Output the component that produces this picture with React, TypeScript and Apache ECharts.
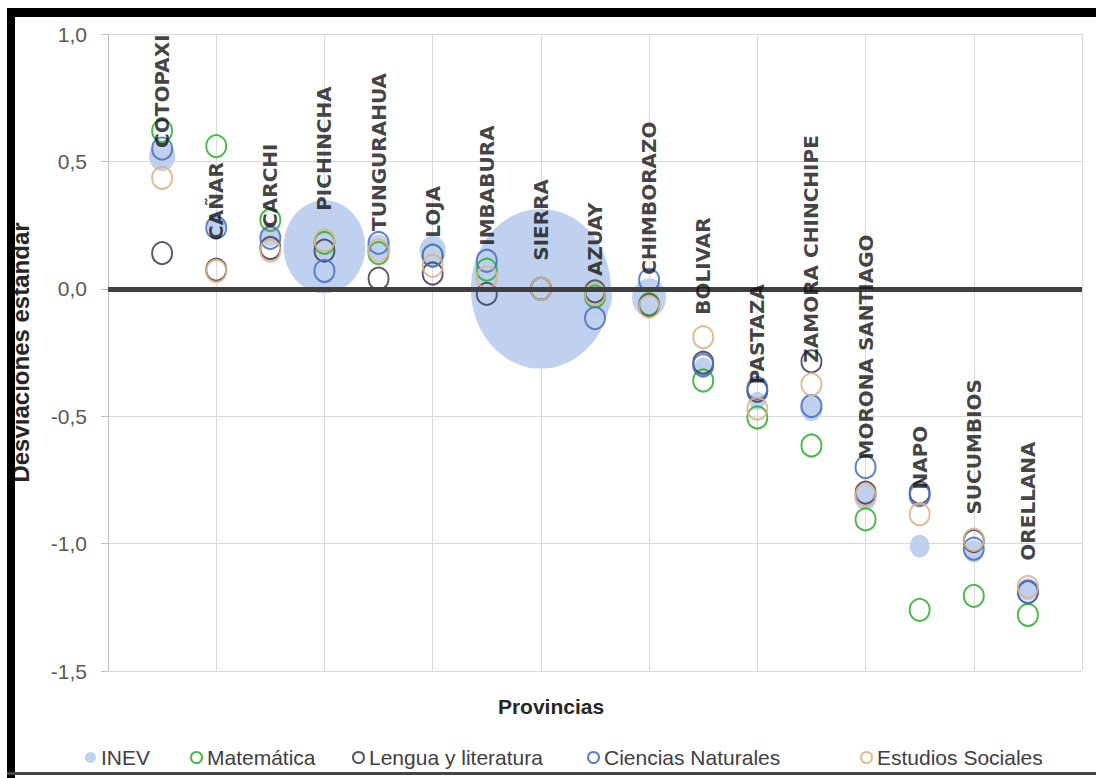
import React, { useEffect, useRef } from 'react';
import * as echarts from 'echarts';

const categories = ['COTOPAXI', 'CAÑAR', 'CARCHI', 'PICHINCHA', 'TUNGURAHUA', 'LOJA', 'IMBABURA', 'SIERRA', 'AZUAY', 'CHIMBORAZO', 'BOLIVAR', 'PASTAZA', 'ZAMORA CHINCHIPE', 'MORONA SANTIAGO', 'NAPO', 'SUCUMBIOS', 'ORELLANA'];
const inev = [0.52, 0.25, 0.21, 0.165, 0.16, 0.15, 0.06, 0.0, -0.035, -0.035, -0.31, -0.44, -0.47, -0.82, -1.01, -1.03, -1.18];
const inevSize = [3.5, 1.7, 2.0, 34, 2.9, 3.5, 3.5, 100, 5.9, 5.9, 1.7, 1.3, 2.5, 2.5, 2.0, 2.0, 2.0];
const matematica = [0.62, 0.56, 0.27, 0.18, 0.14, 0.13, 0.075, 0.0, -0.03, -0.06, -0.36, -0.505, -0.615, -0.905, -1.26, -1.205, -1.28];
const lengua = [0.14, 0.075, 0.16, 0.15, 0.04, 0.06, -0.02, 0.0, -0.01, -0.065, -0.29, -0.4, -0.285, -0.8, -0.8, -0.99, -1.19];
const ciencias = [0.55, 0.24, 0.2, 0.07, 0.18, 0.13, 0.11, 0.0, -0.115, 0.035, -0.3, -0.39, -0.46, -0.7, -0.81, -1.02, -1.19];
const sociales = [0.435, 0.07, 0.15, 0.19, 0.15, 0.09, 0.045, 0.0, -0.02, -0.07, -0.19, -0.47, -0.375, -0.81, -0.885, -0.985, -1.17];
const labelStart = [0.553, 0.192, 0.239, 0.306, 0.227, 0.2, 0.169, 0.11, 0.05, 0.055, -0.102, -0.375, -0.29, -0.67, -0.788, -0.886, -1.067];
const yTicks = { min: -1.5, max: 1.0, interval: 0.5 };
const legendNames = ['INEV', 'Matemática', 'Lengua y literatura', 'Ciencias Naturales', 'Estudios Sociales'];

const FONT = "'Liberation Sans', Arial, sans-serif";
const LEGEND_LEFT = [80, 185, 347, 582, 855];

function ring(name: string, values: number[], color: string) {
  return {
    name,
    type: 'scatter',
    z: 3,
    symbol: 'circle',
    symbolSize: [20, 22],
    itemStyle: { color: 'rgba(255,255,255,0)', borderColor: color, borderWidth: 2, opacity: 0.9 },
    data: values.map((v, i) => [i + 1, v]),
  };
}

export default function App() {
  const ref = useRef<HTMLDivElement>(null);
  useEffect(() => {
    document.body.style.margin = '0';
    const chart = echarts.init(ref.current!, null, { renderer: 'svg' });
    const option: any = {
      animation: false,
      backgroundColor: '#ffffff',
      grid: { left: 107, right: 14, top: 34, bottom: 107 },
      xAxis: {
        type: 'value',
        min: 0,
        max: 18,
        interval: 2,
        axisLine: { show: false, onZero: false },
        axisTick: { show: false },
        axisLabel: { show: false },
        splitLine: { show: true, lineStyle: { color: '#D9D9D9', width: 1 } },
        name: 'Provincias',
        nameLocation: 'middle',
        nameGap: 25,
        nameTextStyle: { fontFamily: FONT, fontWeight: 'bold', fontSize: 21, color: '#262626', padding: [0, 88, 0, 0] },
      },
      yAxis: {
        type: 'value',
        min: yTicks.min,
        max: yTicks.max,
        interval: yTicks.interval,
        axisLine: { show: true, lineStyle: { color: '#BFBFBF', width: 1 } },
        axisTick: { show: true, length: 7, lineStyle: { color: '#BFBFBF' } },
        axisLabel: {
          formatter: (v: number) => v.toFixed(1).replace('.', ','),
          fontFamily: FONT,
          fontSize: 21,
          color: '#595959',
          margin: 21,
        },
        splitLine: { show: true, lineStyle: { color: '#D9D9D9', width: 1 } },
        name: 'Desviaciones estándar',
        nameLocation: 'middle',
        nameRotate: 90,
        nameGap: 76,
        nameTextStyle: { fontFamily: FONT, fontWeight: 'bold', fontSize: 24, color: '#262626' },
      },
      legend: legendNames.map((n, i) => ({
        data: [n],
        left: LEGEND_LEFT[i],
        top: 742,
        itemWidth: 11,
        itemHeight: 11,
        textStyle: { fontFamily: FONT, fontSize: 21, color: '#404040' },
      })),
      graphic: [
        { type: 'rect', shape: { x: 7, y: 8, width: 1089, height: 9 }, style: { fill: '#000' }, z: 100 },
        { type: 'rect', shape: { x: 7, y: 8, width: 8, height: 770 }, style: { fill: '#000' }, z: 100 },
        { type: 'rect', shape: { x: 7, y: 772, width: 1089, height: 3 }, style: { fill: '#444' }, z: 100 },
      ],
      series: [
        {
          name: 'INEV',
          type: 'scatter',
          z: 1,
          symbol: 'circle',
          symbolSize: (_v: any, p: any) => {
            const d = 14 * Math.sqrt(inevSize[p.dataIndex]);
            return [d, d * 1.14];
          },
          itemStyle: { color: '#BCCFEE', opacity: 0.95 },
          data: inev.map((v, i) => [i + 1, v]),
        },
        {
          name: 'zero',
          type: 'line',
          z: 2,
          data: [],
          markLine: {
            silent: true,
            symbol: 'none',
            label: { show: false },
            lineStyle: { color: '#404040', width: 5, type: 'solid' },
            data: [{ yAxis: 0 }],
          },
        },
        ring('Matemática', matematica, '#35B335'),
        ring('Lengua y literatura', lengua, '#45455E'),
        ring('Ciencias Naturales', ciencias, '#4A72C4'),
        ring('Estudios Sociales', sociales, '#DDB48A'),
        {
          name: 'labels',
          type: 'scatter',
          z: 5,
          silent: true,
          symbolSize: 1,
          itemStyle: { color: 'rgba(0,0,0,0)' },
          data: labelStart.map((v, i) => [i + 1, v]),
          label: {
            show: true,
            position: 'inside',
            rotate: 90,
            align: 'left',
            verticalAlign: 'middle',
            formatter: (p: any) => categories[p.dataIndex],
            fontFamily: "'DejaVu Sans', sans-serif",
            fontWeight: 'bold',
            fontSize: 20,
            color: '#111111',
          },
        },
      ],
    };
    chart.setOption(option);
    return () => chart.dispose();
  }, []);
  return <div ref={ref} style={{ width: 1096, height: 778 }} />;
}
